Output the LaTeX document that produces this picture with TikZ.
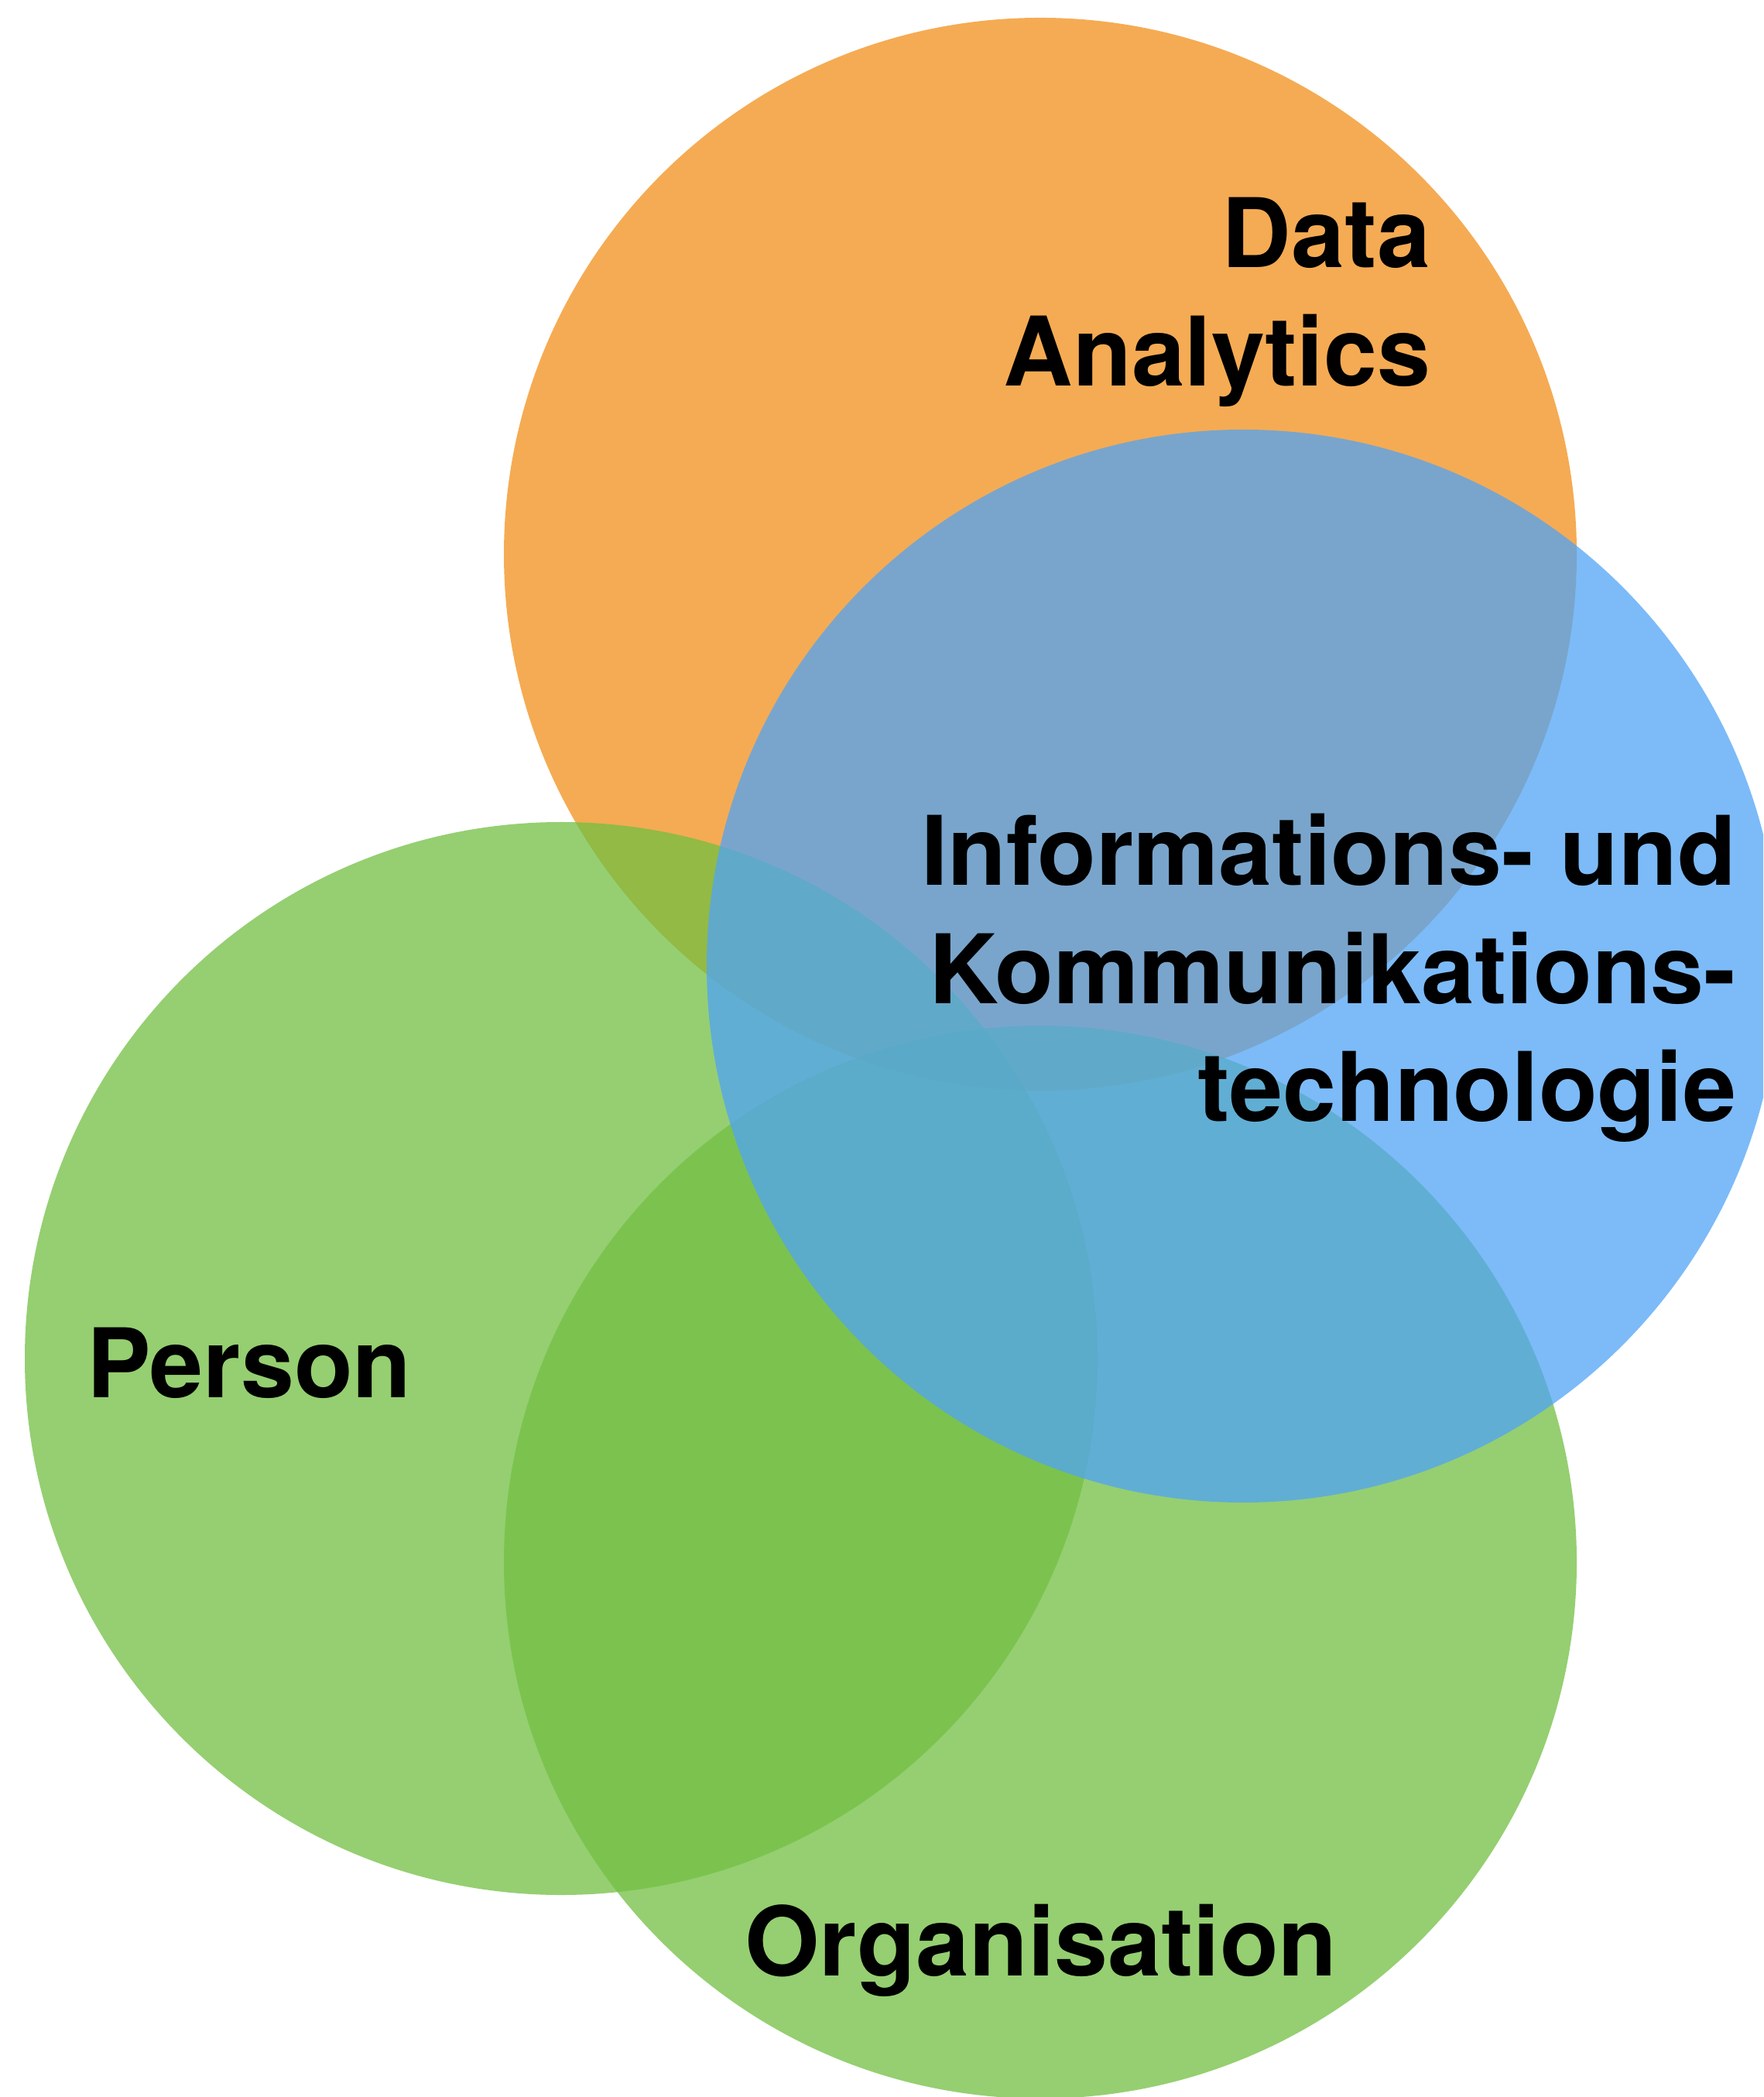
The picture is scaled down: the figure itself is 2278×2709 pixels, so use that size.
\documentclass[tikz,border=0pt]{standalone}
\usepackage{fontspec}
\setmainfont{TeX Gyre Heros}
\definecolor{daorange}{RGB}{242,143,26}
\definecolor{iktblue}{RGB}{80,164,246}
\definecolor{orggreen}{RGB}{114,191,66}

\begin{document}
\begin{tikzpicture}[x=0.1pt, y=-0.1pt,
    blob/.style={fill opacity=.75},
    lbl/.style={inner sep=0, font=\bfseries\fontsize{12.4pt}{15.3pt}\selectfont}]
  \useasboundingbox (0,0) rectangle (2278,2709);
  \clip (0,0) rectangle (2278,2709);

  % centres of the four circles
  \coordinate (da)   at (1344,716);
  \coordinate (pers) at (725,1755);
  \coordinate (org)  at (1344,2018);
  \coordinate (ikt)  at (1606,1248);

  \fill[blob, daorange] (da) circle (693);
  \fill[blob, orggreen] (pers) circle (693);
  \fill[blob, orggreen] (org) circle (693);
  \fill[blob, iktblue] (ikt) circle (693);

  % base anchor sits on the last line
  \node[lbl, anchor=base east, align=right] (datxt) at (1850,499) {Data\\Analytics};
  \node[lbl, anchor=base east, align=right] (ikttxt) at (2245,1449)
    {Informations- und\\Kommunikations-\\technologie};
  \node[lbl, anchor=base west] (perstxt) at (110,1805) {Person};
  \node[lbl, anchor=base] (orgtxt) at (1345,2552) {Organisation};
\end{tikzpicture}
\end{document}
